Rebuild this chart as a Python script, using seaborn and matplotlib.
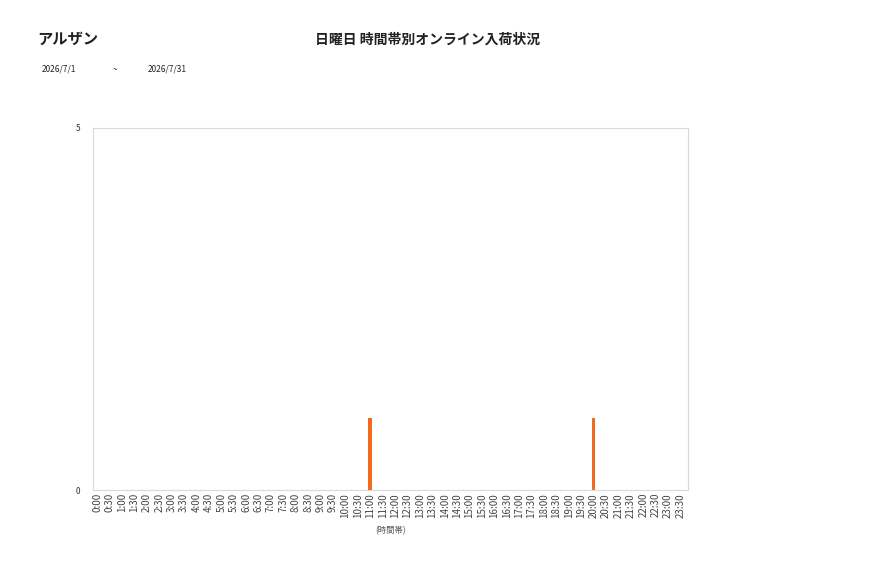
import matplotlib
matplotlib.use("Agg")
import matplotlib.pyplot as plt
import seaborn as sns
import pandas as pd

# data
time_slots = [f"{h}:{m:02d}" for h in range(24) for m in (0, 30)]
arrivals = [0] * 48
arrivals[time_slots.index("11:00")] = 1
arrivals[time_slots.index("20:00")] = 1
shop_name = "アルザン"
title = "日曜日 時間帯別オンライン入荷状況"
date_from = "2026/7/1"
date_to = "2026/7/31"

df = pd.DataFrame({"slot": time_slots, "count": arrivals})

sns.set_style("white")
plt.rcParams['font.family'] = ['Noto Sans CJK JP', 'DejaVu Sans']

fig = plt.figure(figsize=(8.77, 5.78), dpi=100)
ax = fig.add_axes([0.106, 0.152, 0.679, 0.627])

sns.barplot(data=df, x="slot", y="count", color="#f26b1d", width=0.3,
            saturation=1, linewidth=0, ax=ax)

ax.set_ylim(0, 5)
ax.set_yticks([0, 5])
ax.set_xlim(-0.35, 47.65)
ax.tick_params(axis="y", labelsize=6, length=0, pad=9, colors="#333333")
ax.tick_params(axis="x", labelsize=7, length=0, pad=2, colors="#444444")
plt.setp(ax.get_xticklabels(), rotation=90)
ax.set_xlabel("(時間帯)", fontsize=6, color="#555555", labelpad=6)
ax.set_ylabel("")
for s in ax.spines.values():
    s.set_color("#d9d9d9")
    s.set_linewidth(0.8)

fig.text(0.042, 0.925, shop_name, fontsize=11, weight="bold", color="#222222")
fig.text(0.487, 0.925, title, fontsize=10, weight="bold", color="#222222", ha="center")
fig.text(0.047, 0.876, date_from, fontsize=6, color="#222222")
fig.text(0.128, 0.876, "~", fontsize=6, color="#222222")
fig.text(0.168, 0.876, date_to, fontsize=6, color="#222222")

fig.savefig("out.png", dpi=100)
